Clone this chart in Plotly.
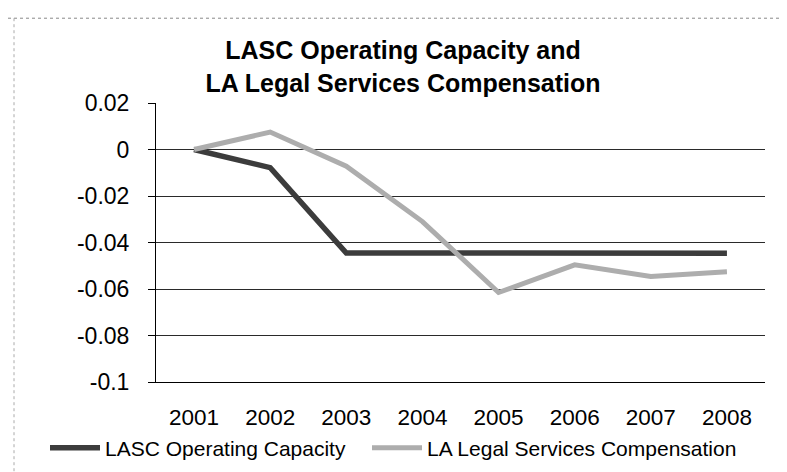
import plotly.graph_objects as go

years = ["2001", "2002", "2003", "2004", "2005", "2006", "2007", "2008"]
lasc_capacity = [0.0, -0.0078, -0.0445, -0.0445, -0.0445, -0.0445, -0.0446, -0.0446]
la_legal_comp = [0.0, 0.0075, -0.0072, -0.031, -0.0615, -0.0496, -0.0546, -0.0526]
series_names = ["LASC Operating Capacity", "LA Legal Services Compensation"]
y_tick_vals = [0.02, 0.0, -0.02, -0.04, -0.06, -0.08, -0.1]
y_tick_text = ["0.02", "0", "-0.02", "-0.04", "-0.06", "-0.08", "-0.1"]
title_text = "LASC Operating Capacity and<br>LA Legal Services Compensation"

W, H = 787, 472
L, R, T, B = 148, 30, 95, 94
pw, ph = W - L - R, H - T - B


def px_x(p):
    return (p - L) / pw


def px_y(p):
    return (H - B - p) / ph


FONT = "Liberation Sans, Arial, sans-serif"

fig = go.Figure()
fig.add_trace(go.Scatter(x=years, y=lasc_capacity, mode="lines", name=series_names[0],
                         line=dict(color="#3c3c3c", width=5.5), legendwidth=257))
fig.add_trace(go.Scatter(x=years, y=la_legal_comp, mode="lines", name=series_names[1],
                         line=dict(color="#adadad", width=5)))

fig.update_layout(
    width=W, height=H,
    margin=dict(l=L, r=R, t=T, b=B, pad=0),
    paper_bgcolor="white", plot_bgcolor="white",
    font=dict(family=FONT, color="black"),
    showlegend=True,
    title=dict(text=title_text, x=395 / W, xanchor="center", xref="container",
               y=1 - 51 / H, yanchor="middle", yref="container",
               font=dict(size=25, color="black", family=FONT, weight="bold")),
    legend=dict(orientation="h", x=px_x(37), xanchor="left", y=px_y(445), yanchor="middle",
                font=dict(size=21, color="black"), itemwidth=50, bgcolor="rgba(0,0,0,0)",
                tracegroupgap=0),
    xaxis=dict(type="category", range=[-0.5, 7.5], showgrid=False, zeroline=False,
               showline=True, linecolor="black", linewidth=1, ticks="",
               tickfont=dict(size=22.5, color="black"), ticklabelstandoff=15),
    yaxis=dict(range=[-0.1, 0.02], tickvals=y_tick_vals, ticktext=y_tick_text,
               showgrid=True, gridcolor="#2a2a2a", gridwidth=1, zeroline=False,
               showline=True, linecolor="black", linewidth=1,
               ticks="outside", ticklen=7, tickcolor="black",
               tickfont=dict(size=23, color="black"), ticklabelstandoff=14),
    shapes=[
        dict(type="line", xref="paper", yref="paper", x0=px_x(0), x1=px_x(W), y0=px_y(9), y1=px_y(9),
             line=dict(color="#888888", width=1, dash="dot")),
        dict(type="line", xref="paper", yref="paper", x0=px_x(6), x1=px_x(6), y0=px_y(9), y1=px_y(H),
             line=dict(color="#aaaaaa", width=1, dash="dot")),
    ],
)

fig.write_html("out.html")
